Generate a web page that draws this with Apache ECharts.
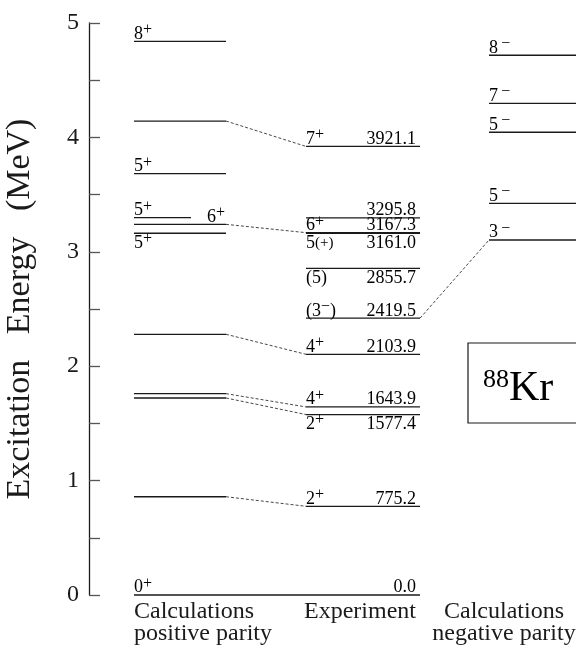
<!DOCTYPE html>
<html>
<head>
<meta charset="utf-8">
<script src="https://cdn.jsdelivr.net/npm/echarts@6/dist/echarts.min.js"></script>
<style>
  html, body { margin: 0; padding: 0; background: #fff; }
  #chart { width: 576px; height: 651px; }
</style>
</head>
<body>
<div id="chart"></div>
<script>
// 88Kr level scheme: shell-model calculations vs. experiment (energies in MeV)
const calcPosEnergy = [0, 0.859, 1.722, 1.760, 2.279, 3.162, 3.240, 3.298, 3.683, 4.143, 4.840];
const calcPosSpin   = ['0+', '', '', '', '', '5+', '6+', '5+', '5+', '', '8+'];

const expEnergy = [0, 0.7752, 1.5774, 1.6439, 2.1039, 2.4195, 2.8557, 3.1610, 3.1673, 3.2958, 3.9211];
const expSpin   = ['', '2+', '2+', '4+', '4+', '(3-)', '(5)', '5(+)', '6+', '', '7+'];
const expValue  = ['0.0', '775.2', '1577.4', '1643.9', '2103.9', '2419.5', '2855.7', '3161.0', '3167.3', '3295.8', '3921.1'];

const calcNegEnergy = [3.103, 3.424, 4.045, 4.298, 4.718];
const calcNegSpin   = ['3-', '5-', '5-', '7-', '8-'];

// correspondences: [calculated positive-parity index, experimental index]
const posLinks = [[0, 0], [1, 1], [2, 2], [3, 3], [4, 4], [6, 8], [9, 10]];
// [experimental index, calculated negative-parity index]
const negLinks = [[5, 0]];

const yTicks = [0, 1, 2, 3, 4, 5];

// ---- layout (horizontal units are the hidden x axis) ----
const COL_POS = [45, 137];
const COL_EXP = [217, 331];
const COL_NEG = [400, 520];
const SHORT_END = 102;                 // the 3.298 MeV 5+ level is drawn shorter
const calcPosSide = ['above', '', '', '', '', 'below', 'aboveRight', 'above', 'above', '', 'above'];
const calcPosShort = [false, false, false, false, false, false, false, true, false, false, false];
const expSide = ['above', 'above', 'below', 'above', 'above', 'above', 'below', 'below', 'above', 'above', 'above'];

const SERIF = '"Liberation Serif", "DejaVu Serif", serif';
const INK = '#1a1a1a';
const LEVEL_W = 1.3;
const LH = 24;   // label line height (leaves room for raised signs)

const rich = {
  n: { fontFamily: SERIF, fontSize: 18, color: INK, lineHeight: LH },
  s: { fontFamily: SERIF, fontSize: 16, color: INK, verticalAlign: 'top', lineHeight: 7 },
  p: { fontFamily: SERIF, fontSize: 15, color: INK, lineHeight: LH }
};

function spinText(s, gap) {
  if (!s) return '';
  let m;
  const sg = c => (c === '-' ? '\u2212' : '+');
  if ((m = s.match(/^\((\d+)([+-])\)$/))) return '{n|(' + m[1] + '}{s|' + sg(m[2]) + '}{n|)}';
  if ((m = s.match(/^(\d+)\(([+-])\)$/))) return '{n|' + m[1] + '}{p|(' + sg(m[2]) + ')}';
  if ((m = s.match(/^(\d+)([+-])$/))) return '{n|' + m[1] + '}{s|' + (gap ? '\u2009' : '') + sg(m[2]) + '}';
  return '{n|' + s + '}';
}

function labelEl(text, x, y, side, align) {
  const below = side === 'below';
  return {
    type: 'text',
    style: {
      text: text, rich: rich, x: x,
      y: below ? y + 9.5 - LH / 2 : y + LH / 2 - 7.3,
      align: align,
      verticalAlign: below ? 'top' : 'bottom'
    }
  };
}

function lineEl(p1, p2, dashed) {
  return {
    type: 'line',
    shape: { x1: p1[0], y1: p1[1], x2: p2[0], y2: p2[1] },
    style: dashed
      ? { stroke: '#333', lineWidth: 0.9, lineDash: [3, 2] }
      : { stroke: INK, lineWidth: LEVEL_W }
  };
}

// calculated positive parity
function renderCalcPos(params, api) {
  const i = params.dataIndex;
  const e = api.value(0);
  const xEnd = calcPosShort[i] ? SHORT_END : COL_POS[1];
  const p1 = api.coord([COL_POS[0], e]);
  const p2 = api.coord([xEnd, e]);
  const kids = [lineEl(p1, p2, false)];
  const side = calcPosSide[i];
  if (calcPosSpin[i]) {
    if (side === 'aboveRight') kids.push(labelEl(spinText(calcPosSpin[i]), p2[0] - 1, p2[1], 'above', 'right'));
    else kids.push(labelEl(spinText(calcPosSpin[i]), p1[0], p1[1], side, 'left'));
  }
  return { type: 'group', children: kids };
}

// experiment
function renderExp(params, api) {
  const i = params.dataIndex;
  const e = api.value(0);
  const p1 = api.coord([COL_EXP[0], e]);
  const p2 = api.coord([COL_EXP[1], e]);
  const kids = [lineEl(p1, p2, false)];
  if (expSpin[i]) kids.push(labelEl(spinText(expSpin[i]), p1[0], p1[1], expSide[i], 'left'));
  kids.push(labelEl('{n|' + expValue[i] + '}', p2[0] - 4, p2[1], expSide[i], 'right'));
  return { type: 'group', children: kids };
}

// calculated negative parity
function renderCalcNeg(params, api) {
  const i = params.dataIndex;
  const e = api.value(0);
  const p1 = api.coord([COL_NEG[0], e]);
  const p2 = api.coord([COL_NEG[1], e]);
  return {
    type: 'group',
    children: [lineEl(p1, p2, false), labelEl(spinText(calcNegSpin[i], true), p1[0], p1[1], 'above', 'left')]
  };
}

// dashed correspondence lines between columns
const linkData = posLinks.map(([c, x]) => [calcPosEnergy[c], expEnergy[x], COL_POS[1], COL_EXP[0]])
  .concat(negLinks.map(([x, c]) => [expEnergy[x], calcNegEnergy[c], COL_EXP[1], COL_NEG[0]]));

function renderLink(params, api) {
  const eA = api.value(0), eB = api.value(1);
  const p1 = api.coord([api.value(2), eA]);
  const p2 = api.coord([api.value(3), eB]);
  // coincident ground states merge into one continuous line
  return lineEl(p1, p2, eA !== eB);
}

const chart = echarts.init(document.getElementById('chart'), null, { renderer: 'canvas' });

chart.setOption({
  animation: false,
  backgroundColor: '#fff',
  grid: { left: 89, right: 0, top: 23, bottom: 56, containLabel: false, outerBoundsMode: 'none' },
  xAxis: { type: 'value', min: 0, max: 487, show: false },
  yAxis: {
    type: 'value', min: yTicks[0], max: yTicks[yTicks.length - 1], interval: 1,
    axisLine: { show: true, lineStyle: { color: INK, width: 1.3 } },
    axisTick: { show: true, inside: true, length: 11, lineStyle: { color: '#555', width: 1.3 } },
    minorTick: { show: true, splitNumber: 2, length: 11, lineStyle: { color: '#555', width: 1.3 } },
    splitLine: { show: false },
    minorSplitLine: { show: false },
    axisLabel: { fontFamily: SERIF, fontSize: 24, color: INK, margin: 10 },
    name: 'Excitation   Energy   (MeV)',
    nameLocation: 'middle', nameRotate: 90, nameGap: 52,
    nameTextStyle: { fontFamily: SERIF, fontSize: 34, color: INK }
  },
  series: [
    { type: 'custom', renderItem: renderLink, data: linkData, silent: true },
    { type: 'custom', renderItem: renderCalcPos, data: calcPosEnergy.map(e => [e]), silent: true },
    { type: 'custom', renderItem: renderExp, data: expEnergy.map(e => [e]), silent: true },
    { type: 'custom', renderItem: renderCalcNeg, data: calcNegEnergy.map(e => [e]), silent: true }
  ],
  graphic: [
    // nucleus tag
    { type: 'rect', shape: { x: 468, y: 343, width: 130, height: 80 },
      style: { fill: 'none', stroke: INK, lineWidth: 1.2 } },
    { type: 'text', x: 483, y: 367,
      style: {
        text: '{a|88}{b|Kr}', verticalAlign: 'top', align: 'left',
        rich: {
          a: { fontFamily: SERIF, fontSize: 26, color: INK, verticalAlign: 'top', lineHeight: 23 },
          b: { fontFamily: SERIF, fontSize: 42, color: INK, lineHeight: 44 }
        }
      } },
    // column captions
    { type: 'text', x: 134, y: 601,
      style: { text: 'Calculations\npositive parity', font: '24px ' + SERIF, fill: INK, lineHeight: 22, align: 'left', verticalAlign: 'top' } },
    { type: 'text', x: 416, y: 601,
      style: { text: 'Experiment', font: '24px ' + SERIF, fill: INK, lineHeight: 22, align: 'right', verticalAlign: 'top' } },
    { type: 'text', x: 504, y: 601,
      style: { text: 'Calculations\nnegative parity', font: '24px ' + SERIF, fill: INK, lineHeight: 22, align: 'center', verticalAlign: 'top' } }
  ]
});
</script>
</body>
</html>
